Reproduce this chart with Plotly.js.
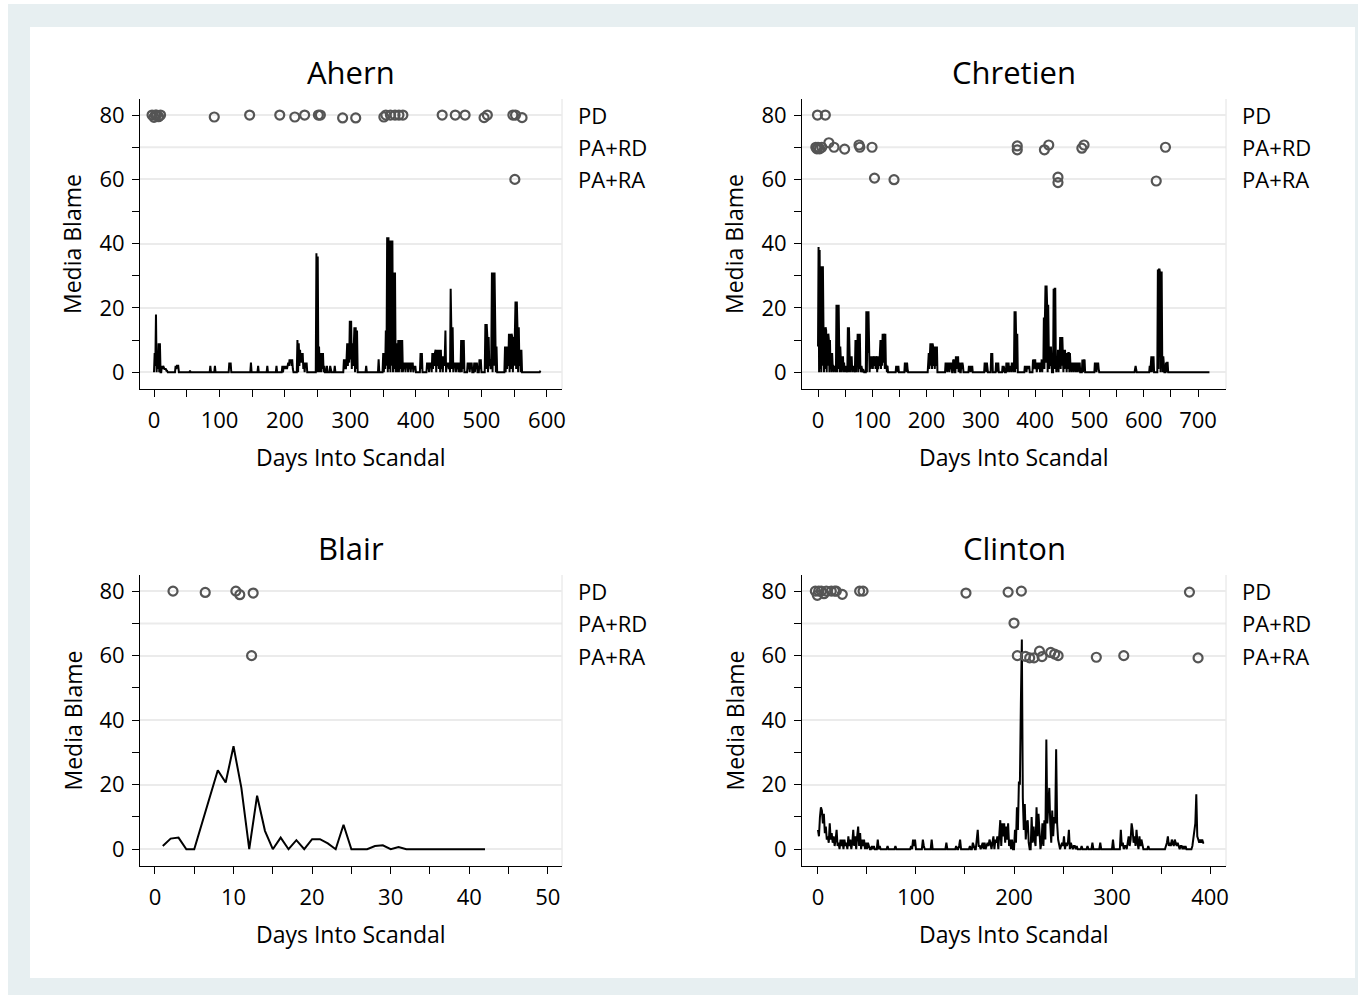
<!DOCTYPE html>
<html>
<head>
<meta charset="utf-8">
<script src="https://cdn.plot.ly/plotly-3.0.1.min.js"></script>
<style>
  body { margin:0; background:#ffffff; }
  #outer { position:absolute; left:8px; top:4px; width:1350px; height:991px; background:#e7eff1; }
  #inner { position:absolute; left:30px; top:27px; width:1325px; height:951px; background:#ffffff; }
  #plot { position:absolute; left:0; top:0; width:1358px; height:995px; }
</style>
</head>
<body>
<div id="outer"></div>
<div id="inner"></div>
<div id="plot"></div>
<script>
// ---------------- DATA ----------------
const panelNames = ["Ahern", "Chretien", "Blair", "Clinton"];
const blameTickVals = [0, 20, 40, 60, 80];
const typeTickVals = [80, 70, 60];
const typeTickText = ["PD", "PA+RD", "PA+RA"];

// Daily media blame, stored as runs: [first day, [value on that day, next day, ...]]
// Days not covered by a run sit on the zero baseline.
const ahernRuns = [
  [0,   [0,6,2,18,0,5,1,9,0,9,0,0,2,1,2,1,1,1,1,0.5,0.5,0]],
  [32,  [0,2,1,2,2,2,0]],
  [54,  [0,0.5,0]],
  [85,  [0,2,0]],
  [92,  [0,2,0]],
  [114, [0,3,2,3,0]],
  [147, [0,3,0]],
  [158, [0,2,0]],
  [172, [0,2,0]],
  [186, [0,2,0]],
  [195, [0,2,0,2,1,2,1,2,1,2,3,2,4,3,4,2,4,1,0]],
  [218, [0,10,0,9,2,7,3,6,3,6,1,3,0,3,2,3,0]],
  [247, [0,37,0,36,0,8,0,6,0,6,1,6,0,2,0]],
  [263, [0,2,0]],
  [268, [0,2,1,0]],
  [275, [0,2,0]],
  [289, [0,4,1,4,1,4,9,2,9,3,16,4,16,1,9,2,9,14,0,14,1,13,0]],
  [323, [0,2,0]],
  [342, [0,4,0]],
  [349, [0,6,0,6,1,13,2,42,0,42,1,41,0,41,2,41,0,31,1,31,0,9,0,0,10,0,10,1,10,0,10,0,
         3,1,3,0,3,2,3,0,3,1,3,0,3,1,3,0,2,1,2,0]],
  [406, [0,6,1,6,0]],
  [416, [0,3,1,3,0,3,2,3,0,6,1,6,2,6,7,0,7,2,7,1,7,0,7,1,5,0,5,2,5,13,0,3,2,3,1,3,0,
         26,14,1,14,0,3,2,3,0,3,1,3,0,3,0,0,10,0,10,1,10,0]],
  [478, [0,3,1,3,0,3,1,3,0]],
  [488, [0,3,0,3,1,3,0]],
  [496, [0,4,1,4,0]],
  [505, [0,15,1,15,11,0,11,2,4,1,4,31,0,31,2,31,8,0,8,0]],
  [535, [0,8,0,8,1,8,2,12,0,12,1,12,11,0,11,2,11,22,1,22,14,0,14,2,7,0,7,0]],
  [589, [0,0.5]]
];
const ahernEventDays = [-3,0,2,4,7,10,92,146,192,215,230,251,254,288,308,351,354,361,368,374,380,440,460,475,504,509,548,552,562,551];
const ahernEventType = [80,79.3,80,80,79.5,80,79.4,80,80,79.4,80,80,80,79.1,79.1,79.4,80,80,80,80,80,80,80,80,79.2,80,80,80,79.2,60];

const chretienRuns = [
  [0,   [8,39,0,38,1,33,0,33,2,33,15,0,14,1,14,13,0,12,2,12,10,0,10,1,6,0,6,2,2,0,2,1,2,0,
         21,0,21,1,21,8,0,8,5,0,5,1,5,0,3,0,2,0,2,0,0,14,0,14,7,0,5,1,5,0,2,1,2,0,1,
         10,0,10,2,12,0,12,1,12,2,0,2,1,0,1,0,0,0,0,0,19,0,19,6,19,6,0,3,1,5,2,5,1,5,4,
         2,5,1,5,4,0,5,1,4,2,5,10,1,10,2,12,3,12,10,1,12,2,2,0,2,0,0]],
  [143, [0,2,1,2,0,2,0]],
  [159, [0,3,1,3,0,3,1,0]],
  [202, [0,2,6,1,6,9,2,9,1,9,8,2,8,1,8,8,2,8,0]],
  [234, [0,3,1,3,0,3,1,3,0,3,1,3,0,0,0,4,1,4,0,0,5,1,5,2,5,0,3,1,0,0,3,1,3,2,0]],
  [277, [0,2,1,2,0,2,1,2,0]],
  [306, [0,3,1,3,0,3,1,0]],
  [318, [0,6,1,6,0]],
  [327, [0,3,0,3,1,3,0]],
  [339, [0,2,0,2,1,0]],
  [346, [0,3,0,3,1,3,0,2,1,2,0,3,1,3,0,2,19,0,19,11,1,12,0]],
  [380, [0,2,1,2,0,2,1,2,1,2,0]],
  [395, [0,4,1,4,2,4,1,3,0,3,1,3,2,3,0,3,1,4,0,4,1,17,1,17,27,3,27,21,0,21,8,1,8,2,8,
         0,0,0,0,26,1,26,26,4,0,4,1,7,0,7,2,11,1,11,2,11,7,0,7,1,7,2,6,0,6,1,6,6,0,6,2,
         3,0,3,1,3,0,3,1,3,0,3,0,3,1,3,0,3,0,0,0,0,4,0,4,1,4,0]],
  [509, [0,3,1,3,0,3,1,3,1,0]],
  [583, [0,1,2,1,0]],
  [610, [0,2,0,2,5,0,5,1,5,0,0,0,0,0,0,0,32,1,32,32,31,0,31,31,5,0,5,0,0,0,0,3,0,3,3,0]],
  [721, [0]]
];
const chretienEventDays = [-1,13.5,-4,-2,0,3,7,20,29.5,49,75.5,77,99.5,104,140,367,367,417,425,486,490,640,442,442,623];
const chretienEventType = [80,80,70,69.5,70,69.5,70,71.4,70,69.4,70.7,70,70,60.4,59.9,70.4,69.2,69.2,70.7,69.7,70.7,70,60.7,59,59.5];

const blairRuns = [
  [1, [1,3.3,3.6,0,0,8.3,16.6,24.5,20.7,31.9,19,0,16.6,5.7,0,3.6,0,2.8,0,3.1,3.1,1.8,0,7.6,0,0,0,1,1.2,0,0.7,0,0,0,0,0,0,0,0,0,0,0]]
];
const blairEventDays = [2.3,6.4,10.3,10.8,12.5,12.3];
const blairEventType = [80,79.6,80,78.9,79.4,60];

const clintonRuns = [
  [0,   [6,4,10,13,12,8,11,5,7,3,4,2,8,3,5,2,4,1,3,6,1,2,0,3,1,3,0,3,1,2,0,4,1,3,0,2,6,1,4,0,
         4,7,1,5,0,3,1,3,0,2,0,2,1,0,0,1,0,1,0,0,0,3,0,1,0,0]],
  [70,  [0,1,0]],
  [78,  [0,1,0]],
  [94,  [0,1,0,3,1,3,0]],
  [106, [0,3,1,0]],
  [115, [0,3,0]],
  [130, [0,2,0]],
  [140, [0,1,0,0,1,3,0]],
  [154, [0,1,0,0,2,1,0,0,3,6,1,1,0,1,2,0,2,0,1,2,1,3,2,0,2,4,0,3,2,4,0,4,9,1,8,4,8,2,7,3,
         8,1,3,0,3,0,0,6,2,13,6,21,20,45,65,16,6,14,3,8,9,2,0,0,10,2,7,3,1,13,4,11,5,0,2,8,
         1,9,3,34,8,13,19,8,2,12,4,10,8,31,8,3,1,0,1,2,1,4,0,2,1,2,6,0,2,1,0,1,1,0,1,0]],
  [268, [0,1,0,0,0,0,0,1,0]],
  [279, [0,2,0]],
  [287, [0,2,0]],
  [300, [0,3,0]],
  [308, [0,6,1,2,0,1,1,0,2,4,1,3,8,6,2,4,1,6,2,0,4,1,3,1,0,0]],
  [336, [0,1,0]],
  [354, [0,1,2,4,1,2,1,3,2,1,3,2,1,2,1,0,1,1,0,1,0,1,0,0,0,0,0,0,1,3,6,8,17,4,3,2,3,2,3,2,2]]
];
const clintonEventDays = [-2.7,-0.7,0.7,3.4,6.1,8.5,13.6,17,18.7,24.8,42.5,46,151,194,207.5,379,200,203.4,211.6,216,220.4,226,228.6,237.4,241.5,245,284,312,387.8];
const clintonEventType = [80,78.7,80,80,79.2,80,80,80,80,79,80,80,79.4,79.7,80,79.7,70.1,60,59.8,59.3,59.3,61.4,59.7,61,60.5,60,59.5,60,59.3];

const xTickVals = [
  [0,100,200,300,400,500,600],
  [0,100,200,300,400,500,600,700],
  [0,10,20,30,40,50],
  [0,100,200,300,400]
];
const xMinorTickVals = [
  [50,150,250,350,450,550],
  [50,150,250,350,450,550,650],
  [5,15,25,35,45],
  [50,150,250,350]
];
const xRanges = [[-21.4, 623], [-29.5, 751.5], [-1.9, 51.8], [-16.3, 416.3]];
const yRange = [-5.2, 85];

// expand runs into x / y arrays (baseline between runs is the straight zero line)
function expandRuns(runs) {
  const x = [], y = [];
  runs.forEach(([start, vals]) => vals.forEach((v, k) => { x.push(start + k); y.push(v); }));
  return {x, y};
}

// ---------------- LAYOUT ----------------
const W = 1358, H = 995;
const boxes = [ // pixel boxes of plot regions [left, right, top, bottom]
  [140, 562, 99, 389],
  [802, 1226, 99, 389],
  [140, 562, 575, 866],
  [802, 1226, 575, 866]
];
const FONT = '"Open Sans", "Noto Sans", sans-serif';
const gridColor = '#ebebeb';
const markerColor = '#555555';

const seriesRuns = [ahernRuns, chretienRuns, blairRuns, clintonRuns];
const eventDays = [ahernEventDays, chretienEventDays, blairEventDays, clintonEventDays];
const eventType = [ahernEventType, chretienEventType, blairEventType, clintonEventType];

const traces = [];
const layout = {
  width: W, height: H,
  margin: {l:0, r:0, t:0, b:0},
  paper_bgcolor: 'rgba(0,0,0,0)',
  plot_bgcolor: 'rgba(0,0,0,0)',
  showlegend: false,
  font: {family: FONT, size: 22, color: '#000'},
  shapes: [],
  annotations: []
};

for (let i = 0; i < 4; i++) {
  const n = i + 1;
  const xa = 'x' + (n === 1 ? '' : n), ya = 'y' + (n === 1 ? '' : n);
  const xk = 'xaxis' + (n === 1 ? '' : n), yk = 'yaxis' + (n === 1 ? '' : n);
  const b = boxes[i];

  layout[xk] = {
    domain: [b[0]/W, b[1]/W],
    anchor: ya,
    range: xRanges[i],
    tickmode: 'array', tickvals: xTickVals[i],
    ticks: 'outside', ticklen: 7, tickwidth: 1, tickcolor: '#000',
    minor: {tickvals: xMinorTickVals[i], ticks: 'outside', ticklen: 7, tickwidth: 1, tickcolor: '#000', showgrid: false},
    showline: true, linecolor: '#000', linewidth: 1,
    showgrid: false, zeroline: false,
    ticklabelstandoff: 5,
    tickfont: {family: FONT, size: 22, color: '#000'}
  };
  layout[yk] = {
    domain: [1 - b[3]/H, 1 - b[2]/H],
    anchor: xa,
    range: yRange,
    tickmode: 'array', tickvals: blameTickVals,
    ticks: 'outside', ticklen: 7, tickwidth: 1, tickcolor: '#000',
    minor: {tickvals: [10,30,50,70], ticks: 'outside', ticklen: 7, tickwidth: 1, tickcolor: '#000', showgrid: false},
    showline: true, linecolor: '#000', linewidth: 1,
    showgrid: true, gridcolor: gridColor, gridwidth: 2,
    zeroline: false,
    ticklabelstandoff: 3,
    tickfont: {family: FONT, size: 22, color: '#000'}
  };

  // gridline at PA+RD level
  layout.shapes.push({type:'line', xref: xa + ' domain', yref: ya, x0:0, x1:1, y0:70, y1:70,
    line:{color: gridColor, width: 2}, layer:'below'});
  // plot region right border
  layout.shapes.push({type:'line', xref: xa + ' domain', yref: ya + ' domain', x0:1, x1:1, y0:0, y1:1,
    line:{color: '#e2e2e2', width: 1}, layer:'below'});

  // right-side event type labels
  typeTickVals.forEach((v, k) => {
    layout.annotations.push({xref: xa + ' domain', yref: ya, x: 1, y: v, xshift: 14,
      xanchor: 'left', yanchor: 'middle', showarrow: false, text: typeTickText[k],
      font: {family: FONT, size: 22, color: '#000'}});
  });
  // panel title
  layout.annotations.push({xref: xa + ' domain', yref: ya + ' domain', x: 0.5, y: 1, yshift: 27,
    xanchor: 'center', yanchor: 'middle', showarrow: false, text: panelNames[i],
    font: {family: FONT, size: 31, color: '#000'}});
  // y-axis title
  layout.annotations.push({xref: xa + ' domain', yref: ya + ' domain', x: 0, y: 0.5, xshift: -68,
    xanchor: 'center', yanchor: 'middle', textangle: -90, showarrow: false, text: 'Media Blame',
    font: {family: FONT, size: 23, color: '#000'}});
  // x-axis title
  layout.annotations.push({xref: xa + ' domain', yref: ya + ' domain', x: 0.5, y: 0, yshift: -68,
    xanchor: 'center', yanchor: 'middle', showarrow: false, text: 'Days Into Scandal',
    font: {family: FONT, size: 23, color: '#000'}});

  const s = expandRuns(seriesRuns[i]);
  traces.push({
    type: 'scatter', mode: 'lines', x: s.x, y: s.y,
    xaxis: xa, yaxis: ya, line: {color: '#000', width: 2}, hoverinfo: 'skip'
  });
  traces.push({
    type: 'scatter', mode: 'markers', x: eventDays[i], y: eventType[i],
    xaxis: xa, yaxis: ya, cliponaxis: false,
    marker: {symbol: 'circle-open', size: 9, color: markerColor, line: {width: 2.2, color: markerColor}},
    hoverinfo: 'skip'
  });
}

Plotly.newPlot('plot', traces, layout, {displayModeBar: false, staticPlot: true});
</script>
</body>
</html>
